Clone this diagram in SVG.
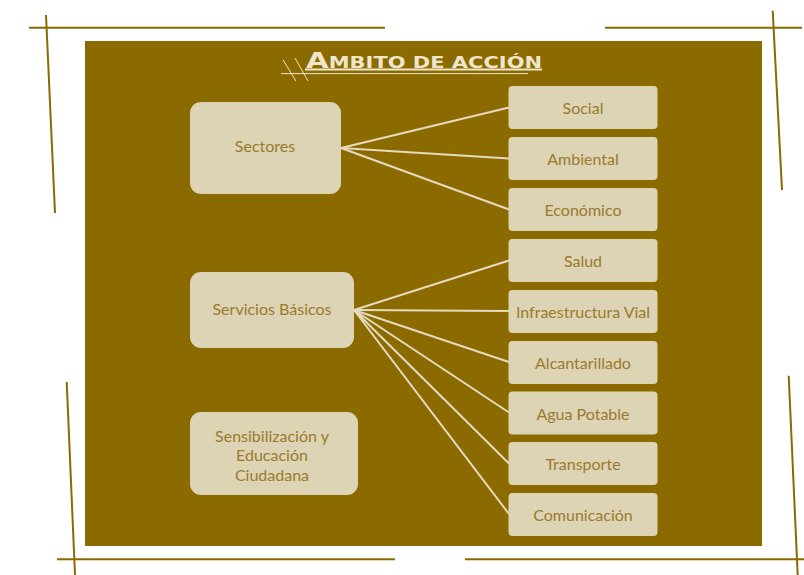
<svg xmlns="http://www.w3.org/2000/svg" width="804" height="575" viewBox="0 0 804 575">
<defs>
<style>
.frame{stroke:#8B6A00;stroke-width:2;fill:none;stroke-linecap:butt}
.node rect{fill:#DDD3B5}
.node text{font-family:Lato,"Liberation Sans",sans-serif;font-size:16px;fill:#9A7B2B;text-anchor:middle}
.conn line{stroke:#E4DBC0;stroke-width:2}
.title{font-family:"DejaVu Sans","Liberation Sans",sans-serif;font-weight:bold;fill:#EFE6CC}
</style>
</defs>
<rect x="0" y="0" width="804" height="575" fill="#FFFFFF"/>
<rect x="85" y="41" width="677" height="505" fill="#8B6A00"/>
<g id="frame-lines">
<line class="frame" x1="29" y1="27.7" x2="385" y2="27.7"/>
<line class="frame" x1="46" y1="15" x2="55" y2="213"/>
<line class="frame" x1="605" y1="27.7" x2="802" y2="27.7"/>
<line class="frame" x1="772.7" y1="10.7" x2="782" y2="190"/>
<line class="frame" x1="66.7" y1="382" x2="75" y2="575"/>
<line class="frame" x1="57" y1="559.3" x2="395" y2="559.3"/>
<line class="frame" x1="788.7" y1="375.7" x2="797.7" y2="575"/>
<line class="frame" x1="465" y1="559.3" x2="804" y2="559.3"/>
</g>
<g id="title">
<text class="title" x="306" y="67.7" textLength="236" lengthAdjust="spacingAndGlyphs"><tspan font-size="21">A</tspan><tspan font-size="15">MBITO DE ACCIÓN</tspan></text>
<line x1="305" y1="69.5" x2="542" y2="69.5" stroke="#EFE6CC" stroke-width="2"/>
<line x1="281" y1="73.6" x2="528" y2="73.6" stroke="#EFE6CC" stroke-width="1"/>
<line x1="283" y1="60" x2="296" y2="81" stroke="#EFE6CC" stroke-width="1"/>
<line x1="295" y1="58" x2="308" y2="81" stroke="#EFE6CC" stroke-width="1"/>
</g>
<g id="connectors" class="conn">
<line x1="341" y1="148" x2="509" y2="107.5"/>
<line x1="341" y1="148" x2="509" y2="158.5"/>
<line x1="341" y1="148" x2="509" y2="209.5"/>
<line x1="354" y1="310" x2="509" y2="260.5"/>
<line x1="354" y1="310" x2="509" y2="311"/>
<line x1="354" y1="310" x2="509" y2="362"/>
<line x1="354" y1="310" x2="509" y2="412.5"/>
<line x1="354" y1="310" x2="509" y2="463.5"/>
<line x1="354" y1="310" x2="509" y2="514"/>
</g>
<g id="sectores" class="node"><rect x="190" y="102" width="151" height="92" rx="11"/><text x="265" y="151.5">Sectores</text></g>
<g id="servicios" class="node"><rect x="190" y="272" width="164" height="76" rx="11"/><text x="272" y="315">Servicios Básicos</text></g>
<g id="sensibilizacion" class="node"><rect x="190" y="412" width="168" height="83" rx="11"/><text x="272" y="441.5">Sensibilización y</text><text x="272" y="461">Educación</text><text x="272" y="480.5">Ciudadana</text></g>
<g id="social" class="node"><rect x="508.5" y="86" width="149" height="43" rx="4"/><text x="583" y="114.3">Social</text></g>
<g id="ambiental" class="node"><rect x="508.5" y="137" width="149" height="43" rx="4"/><text x="583" y="165.3">Ambiental</text></g>
<g id="economico" class="node"><rect x="508.5" y="188" width="149" height="43" rx="4"/><text x="583" y="216.3">Económico</text></g>
<g id="salud" class="node"><rect x="508.5" y="239" width="149" height="43" rx="4"/><text x="583" y="267.3">Salud</text></g>
<g id="infraestructura" class="node"><rect x="508.5" y="290" width="149" height="43" rx="4"/><text x="583" y="318.3">Infraestructura Vial</text></g>
<g id="alcantarillado" class="node"><rect x="508.5" y="341" width="149" height="43" rx="4"/><text x="583" y="369.3">Alcantarillado</text></g>
<g id="agua" class="node"><rect x="508.5" y="391.5" width="149" height="43" rx="4"/><text x="583" y="419.8">Agua Potable</text></g>
<g id="transporte" class="node"><rect x="508.5" y="442" width="149" height="43" rx="4"/><text x="583" y="470.3">Transporte</text></g>
<g id="comunicacion" class="node"><rect x="508.5" y="493" width="149" height="43" rx="4"/><text x="583" y="521.3">Comunicación</text></g>
</svg>
